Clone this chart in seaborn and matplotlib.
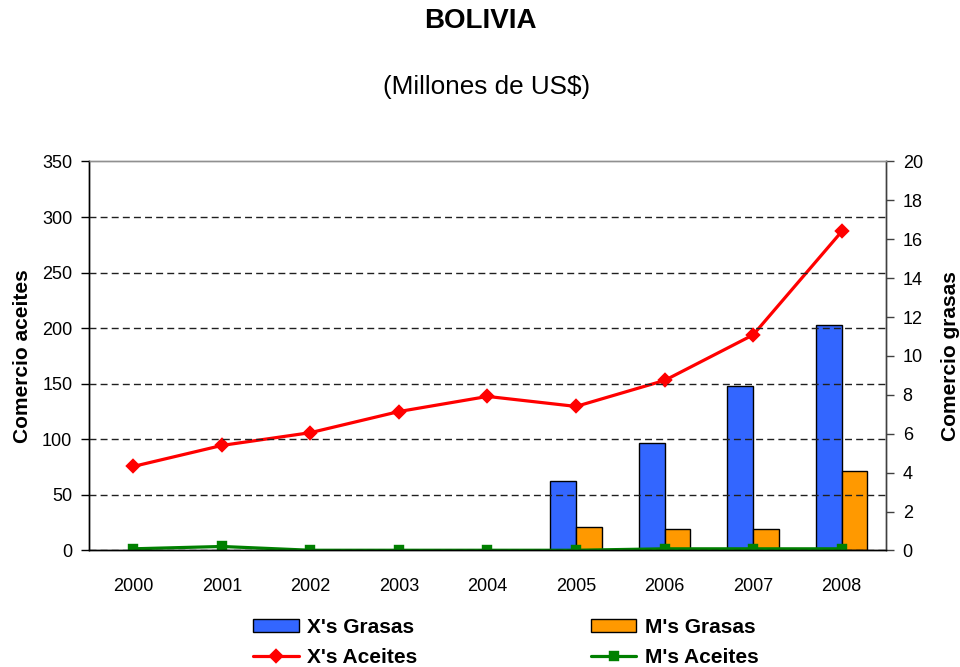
import numpy as np
import pandas as pd
import matplotlib
matplotlib.use('Agg')
import matplotlib.pyplot as plt
import seaborn as sns

years = ['2000', '2001', '2002', '2003', '2004', '2005', '2006', '2007', '2008']
# grasas (eje derecho)
x_grasas = [np.nan, np.nan, np.nan, np.nan, np.nan, 3.55, 5.55, 8.48, 11.57]
m_grasas = [np.nan, np.nan, np.nan, np.nan, np.nan, 1.23, 1.08, 1.08, 4.11]
# aceites (eje izquierdo)
x_aceites = [75.6, 94.5, 106, 125, 138.6, 129.6, 153, 194, 287]
m_aceites = [1.5, 3.6, 0.2, 0.2, 0.2, 0.2, 1.5, 1.5, 1.5]

bars = pd.DataFrame({'year': years * 2,
                     'value': x_grasas + m_grasas,
                     'serie': ["X's Grasas"] * 9 + ["M's Grasas"] * 9})
lines = pd.DataFrame({'year': years * 2,
                      'value': x_aceites + m_aceites,
                      'serie': ["X's Aceites"] * 9 + ["M's Aceites"] * 9})

sns.set_style('white')
plt.rcParams['font.family'] = ['Liberation Sans', 'DejaVu Sans']
plt.rcParams['text.color'] = 'black'
plt.rcParams['axes.labelcolor'] = 'black'
plt.rcParams['xtick.color'] = 'black'
plt.rcParams['ytick.color'] = 'black'

fig = plt.figure(figsize=(9.6, 6.67), dpi=100)
ax = fig.add_axes([0.0927, 0.1747, 0.8302, 0.5832])
ax2 = ax.twinx()

sns.barplot(data=bars, x='year', y='value', hue='serie', order=years,
            hue_order=["X's Grasas", "M's Grasas"],
            palette=['#3366FF', '#FF9900'], width=0.58, errorbar=None,
            saturation=1, edgecolor='black', linewidth=1, ax=ax2)

sns.pointplot(data=lines, x='year', y='value', hue='serie', order=years,
              hue_order=["X's Aceites", "M's Aceites"],
              palette=['#FF0000', '#008000'], markers=['D', 's'],
              linestyles=['-', '-'], errorbar=None, dodge=False,
              markersize=6, linewidth=2.3, ax=ax)

ax.set_zorder(ax2.get_zorder() + 1)
ax.patch.set_visible(False)

ax.set_ylim(0, 350)
ax.set_yticks(np.arange(0, 351, 50))
ax2.set_ylim(0, 20)
ax2.set_yticks(np.arange(0, 21, 2))
ax.set_xlim(-0.5, 8.5)

ax.set_xticks(np.arange(-0.5, 9, 1))
ax.set_xticklabels([])
ax.set_xticks(np.arange(0, 9), minor=True)
ax.set_xticklabels(years, minor=True)
ax.tick_params(axis='x', which='major', direction='out', length=5, width=1, color='black')
ax.tick_params(axis='x', which='minor', length=0, labelsize=13, pad=20)
ax.tick_params(axis='y', direction='out', length=6, width=1, color='black', labelsize=13, pad=6)
ax2.tick_params(axis='y', direction='out', length=6, width=1, color='#404040', labelsize=13, pad=6)

ax.yaxis.grid(True, color='#202020', linestyle=(0, (5, 3)), linewidth=1)
ax.set_axisbelow(False)
# la linea de 350 es el borde superior
ax.get_ygridlines()[-1].set_visible(False)

for a in (ax, ax2):
    a.spines['top'].set_color('#909090')
    a.spines['top'].set_linewidth(1)
    a.spines['left'].set_color('black')
    a.spines['right'].set_color('#404040')
    a.spines['bottom'].set_color('black')
    for s in ('left', 'right', 'bottom'):
        a.spines[s].set_linewidth(1)

ax.set_xlabel('')
ax.set_ylabel('Comercio aceites', fontsize=15, fontweight='bold', labelpad=7)
ax2.set_ylabel('Comercio grasas', fontsize=15, fontweight='bold', labelpad=13)

h2, l2 = ax2.get_legend_handles_labels()
h1, l1 = ax.get_legend_handles_labels()
ax.get_legend().remove()
ax2.get_legend().remove()
handles = [h2[0], h1[0], h2[1], h1[1]]
labels = [l2[0], l1[0], l2[1], l1[1]]
fig.legend(handles, labels, ncol=2, loc='center', bbox_to_anchor=(0.527, 0.037),
           frameon=False, prop={'weight': 'bold', 'size': 15},
           columnspacing=8.3, handlelength=2.2, handleheight=0.6,
           handletextpad=0.4, labelspacing=0.5)

fig.text(0.5, 0.968, 'BOLIVIA', ha='center', va='center', fontsize=20, fontweight='bold')
fig.text(0.507, 0.869, '(Millones de US$)', ha='center', va='center', fontsize=18.8)

fig.savefig('out.png', dpi=100)
